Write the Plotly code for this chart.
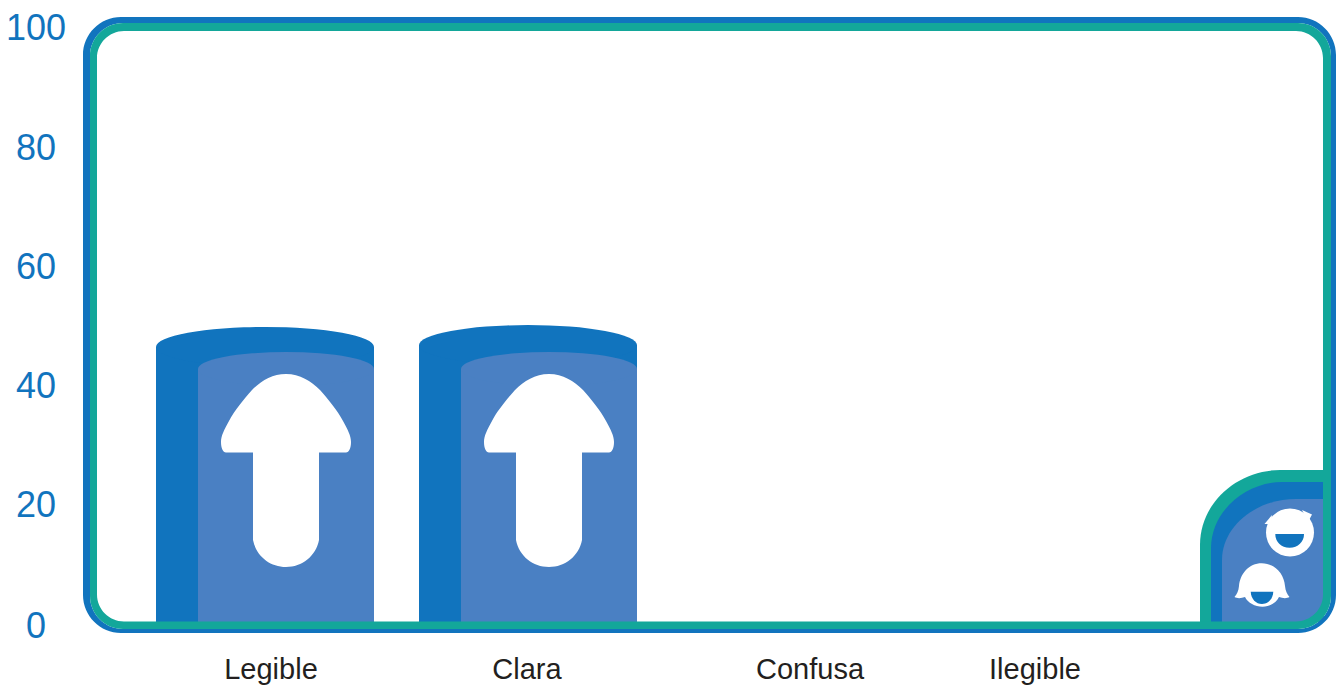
import re
import plotly.graph_objects as go

# data
categories = ["Legible", "Clara", "Confusa", "Ilegible"]
back_values = [50.1, 50.4, 0, 0]
front_values = [45.9, 45.9, 0, 0]
y_ticks = [0, 20, 40, 60, 80, 100]

# layout in page pixels, the x axis simply runs in pixels
BLUE = "#1174BE"
GREEN = "#13A79A"
LIGHT = "#4A80C3"
WHITE = "#FFFFFF"
Y0_PX = 627
PX_PER_UNIT = 5.99
back_centres = [265, 528, 790, 1030]
front_centres = [286, 549, 811, 1051]
label_centres = [271, 527, 810, 1035]
y_label_nudge = [1.2, 3, 2, 1.4, 0, 1]  # the original labels are not quite evenly spaced
BACK_W = 218
FRONT_W = 176
BACK_CAP = 20 / PX_PER_UNIT
FRONT_CAP = 17 / PX_PER_UNIT


def yv(py):
    return (Y0_PX - py) / PX_PER_UNIT


def path(s):
    # "x,y" pairs in page pixels -> axis coordinates
    return re.sub(r"(-?[\d.]+),(-?[\d.]+)", lambda m: f"{float(m[1]):.2f},{yv(float(m[2])):.3f}", s)


def round_rect(x0, y0, x1, y1, r):
    k = r * 0.45
    return (f"M {x0 + r},{y0} L {x1 - r},{y0} C {x1 - k},{y0} {x1},{y0 + k} {x1},{y0 + r} "
            f"L {x1},{y1 - r} C {x1},{y1 - k} {x1 - k},{y1} {x1 - r},{y1} "
            f"L {x0 + r},{y1} C {x0 + k},{y1} {x0},{y1 - k} {x0},{y1 - r} "
            f"L {x0},{y0 + r} C {x0},{y0 + k} {x0 + k},{y0} {x0 + r},{y0} Z ")


def arrow(c):
    return (f"M {c},374 C {c + 14},374 {c + 25},381 {c + 34},390 C {c + 42},399 {c + 52},411 {c + 57},421 "
            f"C {c + 62},430 {c + 65},436 {c + 65},442 C {c + 65},448 {c + 63},452.5 {c + 60},452.5 "
            f"L {c + 33},452.5 L {c + 33},540 C {c + 30},556 {c + 16},567 {c},567 "
            f"C {c - 16},567 {c - 30},556 {c - 33},540 L {c - 33},452.5 L {c - 60},452.5 "
            f"C {c - 63},452.5 {c - 65},448 {c - 65},442 C {c - 65},436 {c - 62},430 {c - 57},421 "
            f"C {c - 52},411 {c - 42},399 {c - 34},390 C {c - 25},381 {c - 14},374 {c},374 Z")


def filled(d, color, rule="nonzero"):
    return dict(type="path", path=path(d), xref="x", yref="y", fillcolor=color,
                line=dict(width=0), layer="above", fillrule=rule)


fig = go.Figure()
fig.add_trace(go.Bar(x=back_centres, y=[max(v - BACK_CAP, 0) for v in back_values],
                     width=BACK_W, marker=dict(color=BLUE, line=dict(width=0)), hoverinfo="skip"))
fig.add_trace(go.Bar(x=front_centres, y=[max(v - FRONT_CAP, 0) for v in front_values],
                     width=FRONT_W, marker=dict(color=LIGHT, line=dict(width=0)), hoverinfo="skip"))

shapes = []

# cylinder tops and arrows
for c, v in zip(back_centres, back_values):
    if v > 0:
        shapes.append(dict(type="circle", xref="x", yref="y", x0=c - BACK_W / 2, x1=c + BACK_W / 2,
                           y0=v - 2 * BACK_CAP, y1=v, fillcolor=BLUE, line=dict(width=0), layer="above"))
for c, v in zip(front_centres, front_values):
    if v > 0:
        shapes.append(dict(type="circle", xref="x", yref="y", x0=c - FRONT_W / 2, x1=c + FRONT_W / 2,
                           y0=v - 2 * FRONT_CAP, y1=v, fillcolor=LIGHT, line=dict(width=0), layer="above"))
        shapes.append(filled(arrow(c), WHITE))

# legend badge, bottom right
shapes.append(filled("M 1200,622 L 1200,545 C 1200,503 1237,470 1280,470 L 1324,470 L 1324,622 Z", GREEN))
shapes.append(filled("M 1211,622 L 1211,548 C 1211,512 1245,482 1282,482 L 1324,482 L 1324,622 Z", BLUE))
shapes.append(filled("M 1222,622 L 1222,560 C 1222,527 1255,499 1296,499 L 1324,499 L 1324,622 Z", LIGHT))

# man
shapes.append(dict(type="circle", xref="x", yref="y", x0=1266, x1=1314, y0=yv(556.5), y1=yv(508.5),
                   fillcolor=WHITE, line=dict(width=0), layer="above"))
shapes.append(filled("M 1264.5,524 L 1272,515 L 1271,524 Z", WHITE))
shapes.append(filled("M 1312,514.5 L 1302,510 L 1308,522 Z", WHITE))
shapes.append(filled("M 1275.3,534 L 1304,534 C 1304,542 1298,547.7 1289.6,547.7 C 1281,547.7 1275.3,542 1275.3,534 Z", BLUE))

# woman
shapes.append(filled("M 1261.7,563.3 C 1275,563.3 1284,574 1285,586 C 1285.5,591 1287,594 1289.5,597 "
                     "C 1287,598.5 1283,598.5 1279,597 C 1276,603 1270,606.7 1262.5,606.7 "
                     "C 1255,606.7 1248,603 1245,597 C 1241,598.5 1237,598.5 1234.5,597 "
                     "C 1237,594 1238.5,591 1239,586 C 1240,574 1249,563.3 1261.7,563.3 Z", WHITE))
shapes.append(filled("M 1250.7,591.7 L 1273.3,591.7 C 1273,599 1268,604 1262,604 C 1256,604 1251,599 1250.7,591.7 Z", BLUE))

# frame
shapes.append(filled(round_rect(83, 17, 1336, 633, 38) + round_rect(90, 23, 1331, 629, 33), BLUE, "evenodd"))
shapes.append(filled(round_rect(90, 23, 1331, 629, 33) + round_rect(97, 31, 1323, 621.5, 27), GREEN, "evenodd"))

# y labels are centred in the original, so annotations rather than ticks
annotations = [dict(x=(36 - 70) / (1336 - 70), y=t, yshift=n, xref="paper", yref="y", text=str(t), showarrow=False,
                    xanchor="center", yanchor="middle",
                    font=dict(family="Liberation Sans", size=36, color=BLUE))
               for t, n in zip(y_ticks, y_label_nudge)]

fig.update_layout(
    width=1336, height=688, margin=dict(l=70, r=0, t=10, b=55),
    paper_bgcolor=WHITE, plot_bgcolor=WHITE, barmode="overlay", bargap=0, showlegend=False,
    shapes=shapes, annotations=annotations,
    xaxis=dict(range=[70, 1336], tickmode="array", tickvals=label_centres, ticktext=categories,
               showgrid=False, zeroline=False, showline=False, ticks="", ticklabelstandoff=16,
               tickfont=dict(family="Liberation Sans", size=29, color="#231F20")),
    yaxis=dict(range=[yv(633), yv(10)], showgrid=False, zeroline=False, showline=False,
               showticklabels=False, ticks=""),
)

# the page's default body margin would push the figure off by 8px
fig.write_html("out.html", config=dict(displayModeBar=False),
               post_script="document.body.style.margin='0';")
